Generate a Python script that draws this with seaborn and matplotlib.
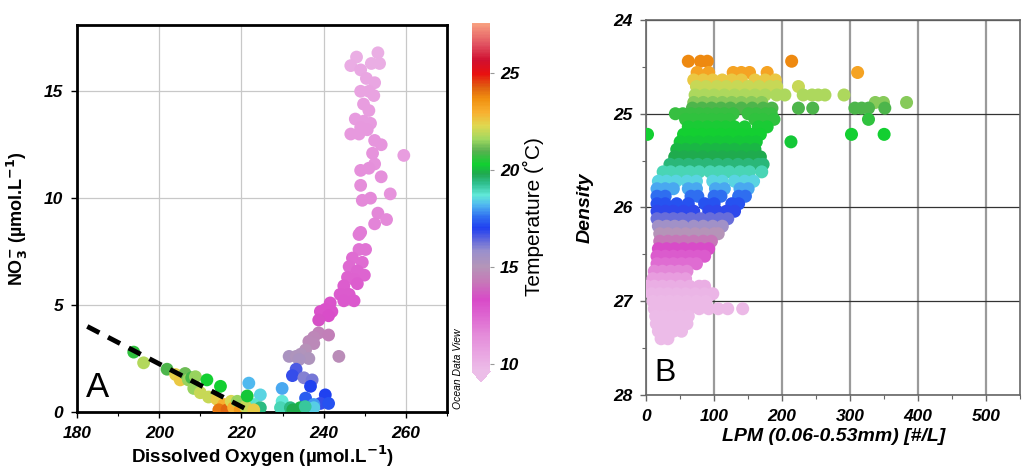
import numpy as np
import pandas as pd
import seaborn as sns
import matplotlib.pyplot as plt
from matplotlib.colors import LinearSegmentedColormap, Normalize
from matplotlib.cm import ScalarMappable
from matplotlib.ticker import MultipleLocator

# ---- panel A: dissolved oxygen vs nitrate, coloured by temperature ----
o2 = [248.0, 253.2, 246.6, 249.0, 251.6, 253.6, 250.4, 252.4, 249.0, 251.0,
      252.2, 249.7, 251.0, 247.7, 249.7, 251.4, 249.0, 250.6, 246.6, 248.6,
      252.4, 254.0, 251.9, 259.5, 252.4, 249.0, 251.0, 254.0, 249.0, 249.4,
      251.4, 256.2, 253.2, 255.3, 252.4, 249.0, 248.6, 250.2, 248.6, 247.0,
      249.4, 246.2, 248.2, 249.9, 245.8, 247.4, 248.2, 244.9, 246.2, 244.0,
      244.9, 247.4, 241.6, 240.4, 239.2, 242.0, 241.2, 238.8,
      238.8, 237.6, 241.2, 236.4, 237.6, 235.6, 234.4, 231.6, 233.3, 236.4,
      243.7, 234.0,
      233.3, 232.4, 235.2, 237.2, 236.8, 235.6, 240.4, 239.2, 241.2, 237.6,
      229.9, 237.6,
      229.9, 229.5, 231.9, 234.3, 235.5, 224.6, 221.8, 223.0, 224.6, 232.5,
      193.8, 196.2, 201.9, 204.0, 205.1, 206.3, 207.1, 207.9, 208.4, 208.8,
      210.0, 211.6, 212.0, 214.9, 214.0, 215.7, 214.5, 216.5, 217.5, 218.1,
      219.0, 219.7, 221.0, 221.4, 223.0]
no3 = [16.6, 16.8, 16.2, 16.0, 16.3, 16.3, 15.6, 15.4, 15.0, 15.0,
       14.8, 14.4, 14.1, 13.7, 13.6, 13.5, 13.3, 13.2, 13.0, 13.0,
       12.7, 12.5, 12.1, 12.0, 11.6, 11.3, 11.4, 11.0, 10.6, 9.9,
       10.0, 10.2, 9.3, 9.0, 8.8, 8.4, 8.3, 7.6, 7.6, 7.2,
       7.0, 6.8, 6.6, 6.4, 6.3, 6.2, 6.0, 5.9, 5.5, 5.5,
       5.2, 5.2, 5.1, 4.8, 4.7, 4.7, 4.5, 4.3,
       3.7, 3.5, 3.6, 3.3, 3.2, 2.9, 2.7, 2.6, 2.6, 2.5,
       2.6, 2.45,
       2.0, 1.7, 1.6, 1.5, 1.2, 0.65, 0.8, 0.4, 0.4, 0.35,
       1.1, 0.2,
       0.5, 0.2, 0.2, 0.2, 0.25, 0.8, 1.35, 0.35, 0.2, 0.1,
       2.8, 2.3, 2.0, 1.75, 1.5, 1.8, 1.5, 1.6, 1.1, 1.65,
       0.9, 1.5, 0.7, 1.2, 0.6, 0.35, 0.1, 0.1, 0.5, 0.2,
       0.5, 0.1, 0.25, 0.75, 0.1]
temp_a = [10.2, 10.2, 10.3, 10.4, 10.2, 10.2, 10.5, 10.5, 10.6, 10.6,
          10.6, 10.8, 10.8, 10.9, 10.9, 10.9, 11.0, 11.0, 11.0, 11.0,
          11.1, 11.1, 11.2, 10.8, 11.2, 11.3, 11.3, 11.3, 11.4, 11.5,
          11.5, 11.2, 11.6, 11.5, 11.7, 11.9, 11.9, 12.1, 12.1, 12.3,
          12.3, 12.4, 12.5, 12.5, 12.6, 12.6, 12.7, 12.7, 12.8, 12.8,
          12.9, 12.9, 13.0, 13.1, 13.1, 13.1, 13.2, 13.4,
          14.5, 14.6, 14.4, 14.7, 14.7, 14.9, 15.1, 15.3, 15.2, 15.2,
          14.8, 15.3,
          16.6, 16.8, 16.0, 16.2, 17.0, 17.4, 17.0, 16.8, 17.2, 17.9,
          18.1, 18.4,
          18.7, 19.0, 19.4, 20.0, 19.2, 18.5, 18.2, 18.8, 19.4, 19.8,
          20.6, 21.8, 20.9, 22.4, 22.6, 21.2, 21.5, 20.8, 21.5, 21.5,
          22.0, 20.3, 22.0, 20.3, 22.5, 23.0, 24.0, 24.2, 22.2, 23.0,
          21.5, 23.5, 22.0, 20.2, 22.5]

# dashed trend line drawn on panel A
fit_o2 = [182.5, 222.5]
fit_no3 = [4.0, 0.0]

# ---- panel B: LPM vs density, rows of points per density level ----
b_dens = [24.44, 24.56, 24.64, 24.71, 24.80, 24.88, 24.94, 25.00, 25.06, 25.14,
          25.22, 25.30, 25.38, 25.46, 25.54, 25.62, 25.72, 25.80, 25.88, 25.96,
          26.04, 26.12, 26.20, 26.28, 26.36, 26.44, 26.52, 26.60, 26.68, 26.76,
          26.84, 26.92, 27.00, 27.08, 27.16, 27.24, 27.32, 27.40]
b_temp = [23.8, 23.3, 22.6, 22.0, 21.7, 21.4, 20.9, 20.7, 20.6, 20.4,
          20.3, 20.2, 20.0, 19.8, 19.5, 19.0, 18.5, 18.1, 17.6, 17.2,
          16.9, 16.3, 15.6, 15.0, 14.2, 13.3, 12.8, 12.3, 11.6, 10.8,
          10.2, 9.9, 9.8, 9.8, 9.7, 9.7, 9.7, 9.7]
b_lpm = [
    [62, 80, 90, 214],
    [75, 92, 128, 140, 152, 178, 311],
    [70, 84, 98, 112, 126, 140, 160, 175, 190],
    [74, 88, 104, 118, 134, 150, 166, 182, 192, 224],
    [72, 86, 100, 115, 130, 145, 160, 175, 192, 204, 231, 244, 253, 263, 291],
    [70, 84, 98, 112, 126, 140, 155, 170, 337, 349, 383],
    [68, 82, 96, 110, 124, 140, 156, 172, 185, 224, 245, 307, 317, 327, 351],
    [43, 54, 66, 78, 90, 103, 115, 128, 150, 162, 176, 184],
    [58, 70, 84, 97, 110, 122, 160, 172, 188, 327],
    [62, 76, 90, 104, 117, 130, 145, 165, 178],
    [2, 55, 68, 82, 96, 110, 124, 140, 155, 168, 302, 350],
    [50, 63, 77, 92, 106, 120, 136, 150, 162, 213],
    [45, 58, 72, 88, 102, 116, 130, 146, 160],
    [42, 55, 68, 83, 98, 112, 126, 140, 155, 168],
    [35, 48, 62, 76, 90, 105, 120, 135, 150, 165, 172],
    [25, 36, 50, 64, 78, 94, 108, 122, 138, 152, 170],
    [18, 30, 44, 60, 74, 98, 112, 130, 145, 158],
    [16, 28, 40, 62, 74, 102, 115, 138, 150],
    [16, 28, 66, 76, 100, 110, 136, 146],
    [16, 28, 45, 62, 86, 100, 126, 136],
    [16, 28, 40, 55, 70, 92, 104, 118, 130],
    [16, 28, 40, 52, 66, 80, 94, 108, 120],
    [18, 30, 42, 54, 70, 84, 98, 112],
    [20, 32, 45, 58, 72, 86, 100, 106],
    [20, 32, 44, 56, 70, 84, 96],
    [18, 30, 42, 55, 68, 80, 92],
    [16, 28, 40, 52, 64, 76, 86],
    [16, 28, 40, 52, 64, 74],
    [12, 24, 36, 48, 60],
    [10, 22, 34, 46, 58],
    [1, 12, 24, 36, 50, 64, 78, 86],
    [8, 20, 32, 45, 58, 72, 86, 98],
    [10, 22, 34, 46, 60, 74, 88],
    [12, 24, 36, 50, 64, 78, 92, 106, 120, 142],
    [14, 26, 38, 50, 62],
    [15, 26, 38, 50, 60],
    [18, 28, 40, 52],
    [22, 32],
]

cbar_ticks = [10, 15, 20, 25]

df_a = pd.DataFrame({"o2": o2, "no3": no3, "temp": temp_a})
df_b = pd.DataFrame([(x, d, t) for d, t, xs in zip(b_dens, b_temp, b_lpm) for x in xs],
                    columns=["lpm", "dens", "temp"])

# ODV-like temperature palette
tmin, tmax = 9.6, 27.6
stops = [(9.6, "#ecbde8"), (10.5, "#e9a5e2"), (11.5, "#e48ad9"), (12.5, "#dd64d0"),
         (13.3, "#d84ac8"), (14.2, "#c678b8"), (15.0, "#b495b8"), (15.8, "#9a90cc"),
         (16.5, "#5560e0"), (17.0, "#2040f0"), (17.6, "#3070f0"), (18.2, "#50b8f0"),
         (18.7, "#60e8d8"), (19.3, "#30c090"), (19.8, "#20a850"), (20.3, "#10d030"),
         (21.0, "#58b050"), (21.6, "#a0d860"), (22.3, "#e0d850"), (23.0, "#f8b030"),
         (23.7, "#f09010"), (24.3, "#e06010"), (25.0, "#e81010"), (25.7, "#d01030"),
         (26.5, "#e05060"), (27.6, "#f8a080")]
cmap = LinearSegmentedColormap.from_list(
    "odv", [((v - tmin) / (tmax - tmin), c) for v, c in stops])
norm = Normalize(tmin, tmax)

sns.set_style("white")
plt.rcParams["font.family"] = ["Liberation Sans", "DejaVu Sans"]
plt.rcParams.update({"text.color": "black", "axes.labelcolor": "black",
                     "xtick.color": "black", "ytick.color": "black"})

fig = plt.figure(figsize=(10.24, 4.68), dpi=100)
ax1 = fig.add_axes([0.0752, 0.1197, 0.3613, 0.8269])
cax = fig.add_axes([0.461, 0.184, 0.0176, 0.767])
ax2 = fig.add_axes([0.631, 0.156, 0.3652, 0.8013])

tick_font = dict(fontsize=12.5, fontweight="bold", fontstyle="italic")

# panel A
sns.scatterplot(data=df_a, x="o2", y="no3", hue="temp", palette=cmap, hue_norm=norm,
                s=85, linewidth=0, legend=False, ax=ax1, zorder=3)
ax1.plot(fit_o2, fit_no3, color="black", lw=3.5, ls=(0, (2.8, 2.0)), zorder=4)
ax1.set_xlim(180, 270)
ax1.set_ylim(0, 18.1)
ax1.set_xticks([180, 200, 220, 240, 260])
ax1.set_yticks([0, 5, 10, 15])
ax1.xaxis.set_minor_locator(MultipleLocator(10))
ax1.grid(True, which="major", color="#c8c8c8", lw=0.9, zorder=0)
ax1.set_axisbelow(True)
for sp in ax1.spines.values():
    sp.set_color("black")
    sp.set_linewidth(2)
ax1.tick_params(which="major", direction="out", length=4, width=1, pad=6,
                bottom=True, left=True)
ax1.tick_params(which="minor", direction="out", length=3, width=0.8, bottom=True)
for lab in ax1.get_xticklabels() + ax1.get_yticklabels():
    lab.set(**tick_font)
ax1.set_xlabel("Dissolved Oxygen (µmol.L$^{\\mathbf{-1}}$)", fontsize=13.5,
               fontweight="bold", labelpad=2)
ax1.set_ylabel("NO$_{\\mathbf{3}}^{\\mathbf{-}}$ (µmol.L$^{\\mathbf{-1}}$)", fontsize=13,
               fontweight="bold", labelpad=10)
ax1.text(0.025, 0.02, "A", transform=ax1.transAxes, fontsize=25, va="bottom", ha="left")
fig.text(0.447, 0.2115, "Ocean Data View", rotation=90, fontsize=7.5,
         fontstyle="italic", ha="center", va="center")

# colorbar
cb = fig.colorbar(ScalarMappable(norm=norm, cmap=cmap), cax=cax, extend="min",
                  extendfrac=0.03)
cb.outline.set_visible(False)
cb.set_ticks(cbar_ticks)
cax.tick_params(length=3, color="#999999", pad=4)
for lab in cax.get_yticklabels():
    lab.set(**tick_font)
fig.text(533 / 1024, 1 - 217 / 468, "Temperature (˚C)", rotation=90, fontsize=15,
         ha="center", va="center")

# panel B
sns.scatterplot(data=df_b, x="lpm", y="dens", hue="temp", palette=cmap, hue_norm=norm,
                s=88, linewidth=0, legend=False, ax=ax2, zorder=3)
ax2.set_xlim(0, 550)
ax2.set_ylim(28, 24)
ax2.set_xticks([0, 100, 200, 300, 400, 500])
ax2.set_yticks([24, 25, 26, 27, 28])
ax2.xaxis.set_minor_locator(MultipleLocator(50))
ax2.yaxis.set_minor_locator(MultipleLocator(0.5))
ax2.set_axisbelow(True)
ax2.xaxis.grid(True, which="major", color="#9a9a9a", lw=1.6)
ax2.yaxis.grid(True, which="major", color="#333333", lw=0.9)
for sp in ax2.spines.values():
    sp.set_color("#666666")
    sp.set_linewidth(1.2)
ax2.tick_params(which="major", direction="out", length=4, width=1, pad=6,
                bottom=True, left=True, color="#666666")
ax2.tick_params(which="minor", direction="out", length=3, width=0.8,
                bottom=True, left=True, color="#666666")
for lab in ax2.get_xticklabels() + ax2.get_yticklabels():
    lab.set(**tick_font)
ax2.set_xlabel("LPM (0.06-0.53mm) [#/L]", fontsize=14, fontweight="bold",
               fontstyle="italic", labelpad=3)
ax2.set_ylabel("Density", fontsize=14, fontweight="bold", fontstyle="italic",
               labelpad=14)
ax2.text(0.022, 0.018, "B", transform=ax2.transAxes, fontsize=23, va="bottom", ha="left")

fig.savefig("out.png", dpi=100)
